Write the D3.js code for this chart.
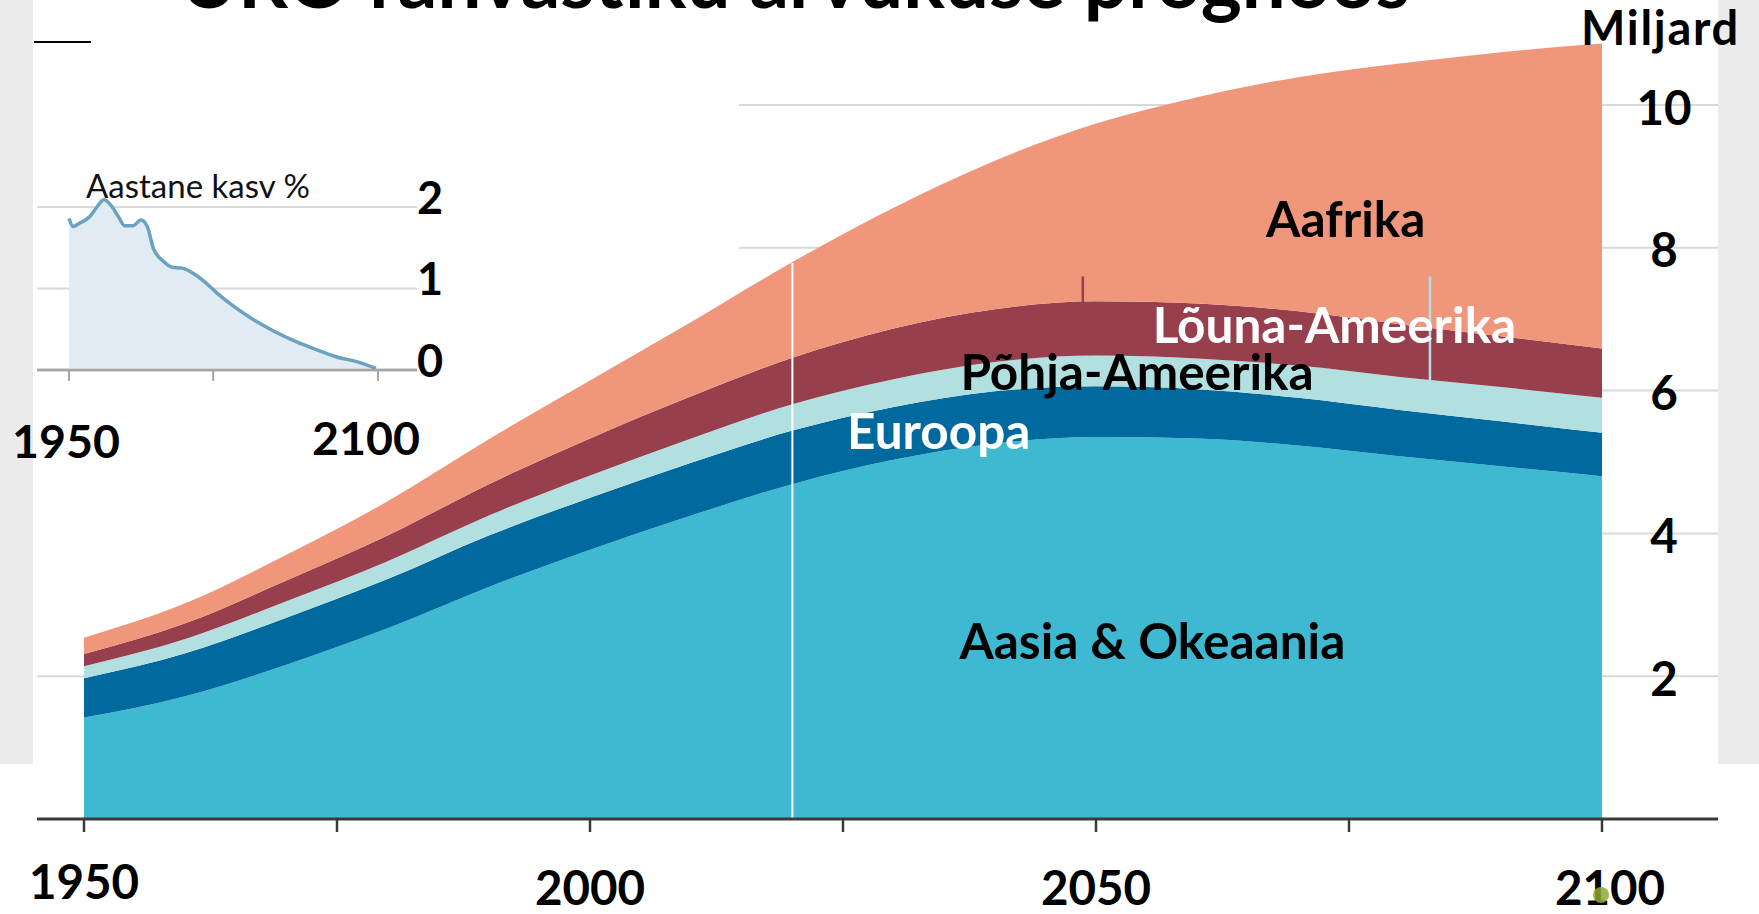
<!DOCTYPE html>
<html lang="et">
<head>
<meta charset="utf-8">
<script src="https://cdn.jsdelivr.net/npm/d3@7"></script>
<style>
  body { margin: 0; background: #fff; }
  text { font-family: Lato, "Open Sans", sans-serif; }
</style>
</head>
<body>
<div id="chart"></div>
<script>
// Population by region, billions
var years = [1950, 1960, 1970, 1980, 1990, 2000, 2010, 2020, 2030, 2040, 2050, 2060, 2070, 2080, 2090, 2100];
var asiaOceania = [1.42, 1.72, 2.16, 2.67, 3.25, 3.77, 4.25, 4.69, 5.03, 5.26, 5.35, 5.33, 5.23, 5.08, 4.94, 4.80];
var europe = [0.55, 0.60, 0.66, 0.69, 0.72, 0.73, 0.74, 0.75, 0.74, 0.73, 0.71, 0.69, 0.67, 0.65, 0.63, 0.61];
var northAmerica = [0.17, 0.20, 0.23, 0.25, 0.28, 0.31, 0.34, 0.37, 0.39, 0.41, 0.43, 0.43, 0.45, 0.46, 0.48, 0.49];
var latinAmerica = [0.17, 0.22, 0.29, 0.36, 0.44, 0.52, 0.59, 0.65, 0.71, 0.74, 0.76, 0.77, 0.76, 0.74, 0.71, 0.69];
var africa = [0.23, 0.28, 0.36, 0.48, 0.63, 0.81, 1.04, 1.34, 1.69, 2.08, 2.49, 2.89, 3.28, 3.65, 3.98, 4.27];

var regionKeys = ["asia", "europe", "nam", "lam", "africa"];
var regionColors = ["#3fb9d1", "#006a9e", "#b2dfdf", "#983f4d", "#f0977b"];

var yTicks = [2, 4, 6, 8, 10];
var xTicks = [1950, 1975, 2000, 2025, 2050, 2075, 2100];
var xTickLabels = [1950, 2000, 2050, 2100];

// series labels, placed in data units (year, value of baseline)
var labels = [
  {text: "Aafrika", year: 2066.8, value: 8.15, color: "#000"},
  {text: "Lõuna-Ameerika", year: 2055.6, value: 6.67, color: "#fff"},
  {text: "Põhja-Ameerika", year: 2036.6, value: 6.01, color: "#000"},
  {text: "Euroopa", year: 2025.4, value: 5.18, color: "#fff"},
  {text: "Aasia & Okeaania", year: 2036.5, value: 2.24, color: "#000"}
];
// little pointer lines from the label row down to a layer
var pointers = [
  {year: 2048.7, from: 7.6, layer: 3, color: "#983f4d"},
  {year: 2083, from: 7.6, layer: 2, color: "#b2dfdf"}
];

// inset: annual growth %
var growthYears = [1950, 1952, 1955, 1960, 1963, 1967, 1971, 1974, 1977, 1981, 1985, 1988, 1991, 1996, 2000, 2005, 2010, 2015, 2022, 2030, 2040, 2050, 2060, 2070, 2080, 2090, 2099];
var growthValues = [1.86, 1.76, 1.80, 1.88, 1.98, 2.09, 2.00, 1.88, 1.77, 1.77, 1.84, 1.76, 1.49, 1.33, 1.26, 1.25, 1.19, 1.10, 0.94, 0.78, 0.61, 0.47, 0.35, 0.25, 0.16, 0.10, 0.02];
var insetYTicks = [0, 1, 2];
var insetXTicks = [1950, 2020, 2100];
var insetXLabels = [1950, 2100];

var svgW = 1759, svgH = 914;
var svg = d3.select("#chart").append("svg")
  .attr("width", svgW)
  .attr("height", svgH);

// grey slide edges
svg.append("rect").attr("x", 0).attr("y", 0).attr("width", 33).attr("height", 764).attr("fill", "#ebebeb");
svg.append("rect").attr("x", 1718).attr("y", 0).attr("width", 41).attr("height", 764).attr("fill", "#ebebeb");

var x = d3.scaleLinear().domain([1950, 2100]).range([84, 1602]);
var y = d3.scaleLinear().domain([0, 10]).range([819, 105]);

// gridlines
svg.append("g").selectAll("line")
  .data(yTicks)
  .enter()
  .append("line")
  .attr("x1", 37).attr("x2", 1718)
  .attr("y1", d => y(d)).attr("y2", d => y(d))
  .attr("stroke", "#d9d9d9")
  .attr("stroke-width", 2);

// white panel behind the inset hides the grid there
svg.append("rect").attr("x", 33).attr("y", 0).attr("width", 706).attr("height", 600).attr("fill", "#fff");

// stacked areas
var rows = years.map((yr, i) => ({
  year: yr, asia: asiaOceania[i], europe: europe[i], nam: northAmerica[i], lam: latinAmerica[i], africa: africa[i]
}));
var stacked = d3.stack().keys(regionKeys)(rows);

var area = d3.area()
  .x(d => x(d.data.year))
  .y0(d => y(d[0]))
  .y1(d => y(d[1]))
  .curve(d3.curveMonotoneX);

svg.append("g").selectAll("path")
  .data(stacked)
  .enter()
  .append("path")
  .attr("d", area)
  .attr("fill", (d, i) => regionColors[i]);

// "today" line at 2020
var i2020 = years.indexOf(2020);
svg.append("line")
  .attr("x1", x(2020)).attr("x2", x(2020))
  .attr("y1", y(stacked[4][i2020][1]) + 1).attr("y2", y(0))
  .attr("stroke", "#fff")
  .attr("stroke-width", 2);

// pointer lines
pointers.forEach(function (p) {
  var topAt = d3.scaleLinear().domain(years).range(stacked[p.layer].map(d => d[1]));
  svg.append("line")
    .attr("x1", x(p.year)).attr("x2", x(p.year))
    .attr("y1", y(p.from)).attr("y2", y(topAt(p.year)))
    .attr("stroke", p.color)
    .attr("stroke-width", 2.5);
});

// x axis
svg.append("line")
  .attr("x1", 37).attr("x2", 1718)
  .attr("y1", y(0)).attr("y2", y(0))
  .attr("stroke", "#3a3a3a")
  .attr("stroke-width", 3);

svg.append("g").selectAll("line")
  .data(xTicks)
  .enter()
  .append("line")
  .attr("x1", d => x(d)).attr("x2", d => x(d))
  .attr("y1", y(0)).attr("y2", y(0) + 13)
  .attr("stroke", "#3a3a3a")
  .attr("stroke-width", 2.5);

svg.append("g").selectAll("text")
  .data(xTickLabels)
  .enter()
  .append("text")
  .attr("x", d => x(d) + (d == 2100 ? 8 : 0))
  .attr("y", d => d == 1950 ? 899 : 905)
  .attr("text-anchor", "middle")
  .attr("font-size", 47.5)
  .attr("font-weight", 700)
  .text(d => d);

// green dot left on the slide, sits over the 2100 label
svg.append("circle")
  .attr("cx", x(2100) - 1).attr("cy", 895).attr("r", 8)
  .attr("fill", "#8ea832")
  .attr("opacity", 0.85);

// y labels on the right
svg.append("g").selectAll("text")
  .data(yTicks)
  .enter()
  .append("text")
  .attr("x", 1664)
  .attr("y", d => y(d) + 3)
  .attr("dy", "0.35em")
  .attr("text-anchor", "middle")
  .attr("font-size", 47.5)
  .attr("font-weight", 700)
  .text(d => d);

svg.append("text")
  .attr("x", 1740).attr("y", 45)
  .attr("text-anchor", "end")
  .attr("font-size", 47)
  .attr("font-weight", 700)
  .attr("letter-spacing", 1.7)
  .text("Miljard");

// series labels
svg.append("g").selectAll("text")
  .data(labels)
  .enter()
  .append("text")
  .attr("x", d => x(d.year))
  .attr("y", d => y(d.value))
  .attr("font-size", 49.5)
  .attr("font-weight", 700)
  .attr("fill", d => d.color)
  .text(d => d.text);

// title, cut off by the top edge
svg.append("text")
  .attr("x", 180).attr("y", 8)
  .attr("font-size", 78)
  .attr("font-weight", 700)
  .text("ÜRO rahvastiku arvukuse prognoos");

svg.append("line")
  .attr("x1", 34).attr("x2", 91)
  .attr("y1", 42).attr("y2", 42)
  .attr("stroke", "#000")
  .attr("stroke-width", 2);

// ---- inset: annual growth ----
var ix = d3.scaleLinear().domain([1950, 2100]).range([69, 378]);
var iy = d3.scaleLinear().domain([0, 2]).range([370, 207]);
var inset = svg.append("g");

inset.selectAll("line.grid")
  .data(insetYTicks)
  .enter()
  .append("line")
  .attr("class", "grid")
  .attr("x1", 37).attr("x2", 417)
  .attr("y1", d => iy(d)).attr("y2", d => iy(d))
  .attr("stroke", d => d == 0 ? "#a6a6a6" : "#d9d9d9")
  .attr("stroke-width", d => d == 0 ? 2.5 : 2);

var growth = growthYears.map((yr, i) => ({year: yr, value: growthValues[i]}));

inset.append("path")
  .datum(growth)
  .attr("fill", "#e1ebf3")
  .attr("d", d3.area().x(d => ix(d.year)).y0(iy(0)).y1(d => iy(d.value)).curve(d3.curveMonotoneX));

inset.append("line")
  .attr("x1", 37).attr("x2", 417)
  .attr("y1", iy(0)).attr("y2", iy(0))
  .attr("stroke", "#a6a6a6")
  .attr("stroke-width", 2.5);

inset.append("path")
  .datum(growth)
  .attr("fill", "none")
  .attr("stroke", "#6ba1c1")
  .attr("stroke-width", 3.5)
  .attr("d", d3.line().x(d => ix(d.year)).y(d => iy(d.value)).curve(d3.curveMonotoneX));

inset.selectAll("line.tick")
  .data(insetXTicks)
  .enter()
  .append("line")
  .attr("class", "tick")
  .attr("x1", d => ix(d)).attr("x2", d => ix(d))
  .attr("y1", iy(0)).attr("y2", iy(0) + 11)
  .attr("stroke", "#a6a6a6")
  .attr("stroke-width", 2);

inset.selectAll("text.ylab")
  .data(insetYTicks)
  .enter()
  .append("text")
  .attr("class", "ylab")
  .attr("x", 430)
  .attr("y", d => iy(d) - 9)
  .attr("dy", "0.35em")
  .attr("text-anchor", "middle")
  .attr("font-size", 45)
  .attr("font-weight", 700)
  .text(d => d);

inset.selectAll("text.xlab")
  .data(insetXLabels)
  .enter()
  .append("text")
  .attr("class", "xlab")
  .attr("x", d => ix(d) + (d == 2100 ? -12 : -3))
  .attr("y", d => d == 1950 ? 458 : 455)
  .attr("text-anchor", "middle")
  .attr("font-size", 46.5)
  .attr("font-weight", 700)
  .text(d => d);

inset.append("text")
  .attr("x", 86).attr("y", 198)
  .attr("font-size", 33)
  .attr("fill", "#111")
  .text("Aastane kasv %");
</script>
</body>
</html>
